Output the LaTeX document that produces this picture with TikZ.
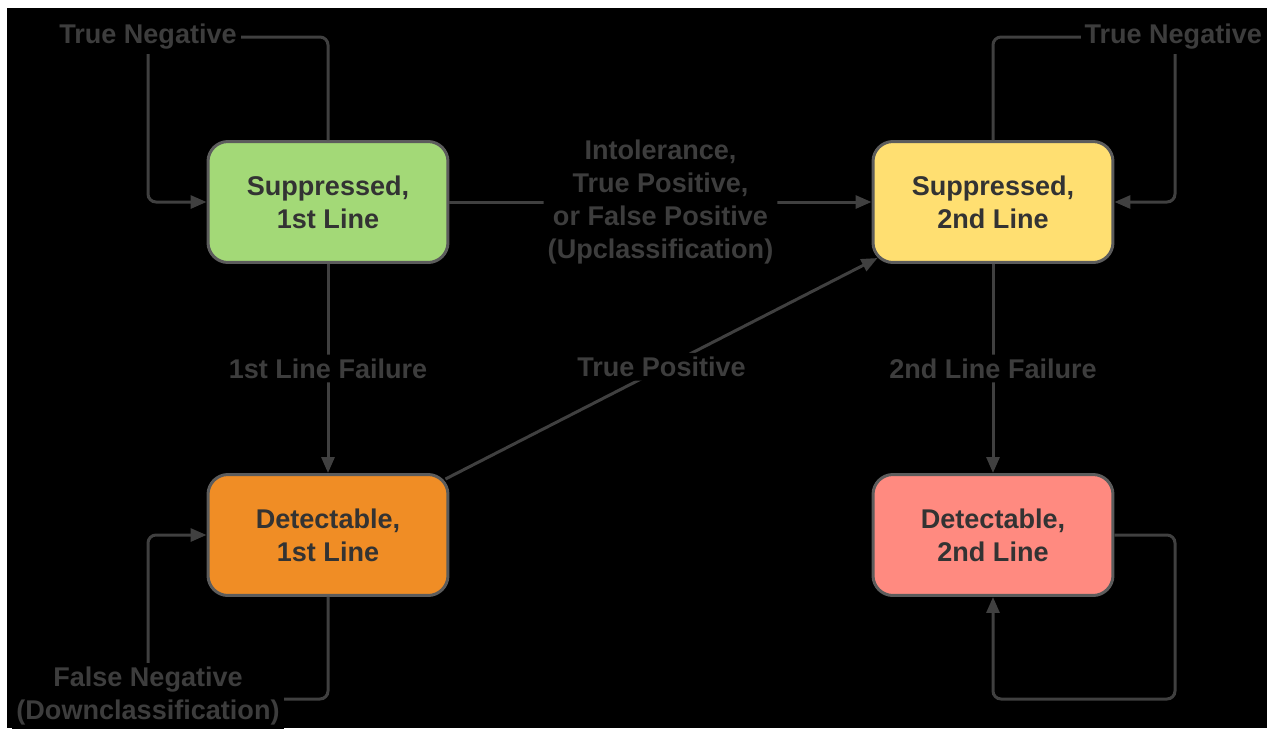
\documentclass[tikz,border=0pt]{standalone}
\usepackage{fontspec}
\setmainfont{Liberation Sans}
\usetikzlibrary{arrows.meta}
\definecolor{suppone}{HTML}{A3D977}
\definecolor{supptwo}{HTML}{FFDF71}
\definecolor{detone}{HTML}{F08D25}
\definecolor{dettwo}{HTML}{FF8A80}
\definecolor{stateedge}{HTML}{5C5C5C}
\definecolor{statetext}{HTML}{333333}
\definecolor{linkgray}{HTML}{404040}
\definecolor{labelgray}{HTML}{3D3D3D}
\tikzset{
  state/.style={draw=stateedge,line width=0.06cm,rounded corners=0.4cm,minimum width=4.8cm,minimum height=2.42cm,
    text=statetext,font=\bfseries\fontsize{15.4}{18.6}\selectfont,align=center},
  link/.style={draw=linkgray,line width=0.06cm,rounded corners=0.16cm},
  tip/.style={-{Triangle[length=0.32cm,width=0.26cm]}},
  lbl/.style={fill=black,text=labelgray,font=\bfseries\fontsize{15.4}{18.6}\selectfont,align=center,inner sep=0.08cm}
}
\begin{document}
\begin{tikzpicture}[x=0.02cm,y=-0.02cm]
\useasboundingbox (0,0) rectangle (1276,728);
\fill[white] (0,0) rectangle (1276,728);
\fill[black] (7,8) rectangle (1267,728);
\node[state,fill=suppone] (s1) at (328,202) {Suppressed,\\1st Line};
\node[state,fill=supptwo] (s2) at (993,202) {Suppressed,\\2nd Line};
\node[state,fill=detone] (d1) at (328,535) {Detectable,\\1st Line};
\node[state,fill=dettwo] (d2) at (993,535) {Detectable,\\2nd Line};
\coordinate (tn1) at (148,37);
\coordinate (tn2) at (1175,37);
\coordinate (fn1) at (148,699);
\coordinate (loop2) at (1175,699);
\draw[link,tip] (s1.north) |- (tn1) |- (s1.west);
\draw[link,tip] (s2.north) |- (tn2) |- (s2.east);
\draw[link,tip] (d1.south) |- (fn1) |- (d1.west);
\draw[link,tip] (d2.east) -| (loop2) -| (d2.south);
\draw[link,tip] (s1.east) -- node[lbl]{Intolerance,\\True Positive,\\or False Positive\\(Upclassification)} (s2.west);
\draw[link,tip] (s1.south) -- node[lbl]{1st Line Failure} (d1.north);
\draw[link,tip] (s2.south) -- node[lbl]{2nd Line Failure} (d2.north);
\draw[link,tip] ([shift={(-4,6)}]d1.north east) -- node[lbl,yshift=1pt]{True Positive} ([shift={(6,-6)}]s2.south west);
\node[lbl] (tnlabel1) at (tn1) {True Negative};
\node[lbl] (tnlabel2) at ([xshift=-1pt]tn2) {True Negative};
\node[lbl] (fnlabel) at (148,696) {False Negative\\(Downclassification)};
\end{tikzpicture}
\end{document}
